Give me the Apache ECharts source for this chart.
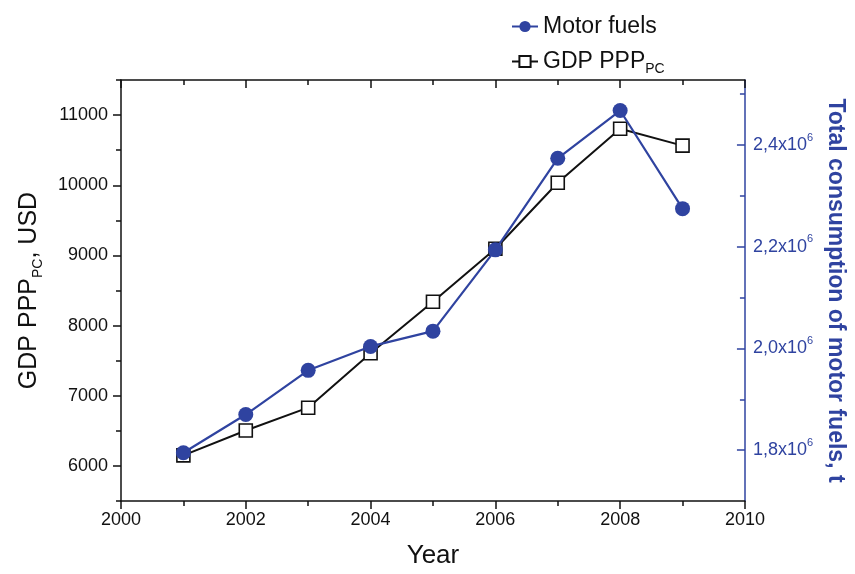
<!DOCTYPE html>
<html>
<head>
<meta charset="utf-8">
<script src="https://cdn.jsdelivr.net/npm/echarts@6/dist/echarts.min.js"></script>
<style>
  html, body { margin: 0; padding: 0; background: #ffffff; }
  #chart { width: 855px; height: 574px; }
</style>
</head>
<body>
<div id="chart"></div>
<script>
// Yearly values, 2001-2009
const years = [2001, 2002, 2003, 2004, 2005, 2006, 2007, 2008, 2009];
const gdpPppPc = [6150, 6505, 6830, 7605, 8340, 9095, 10035, 10805, 10565];
const motorFuels = [1795000, 1870000, 1957000, 2004000, 2034000, 2194000, 2374000, 2468000, 2275000];

// Tick positions
const gdpTicks = [6000, 7000, 8000, 9000, 10000, 11000];
const gdpMinorTicks = [5500, 6500, 7500, 8500, 9500, 10500, 11500];
const fuelTicks = [1800000, 2000000, 2200000, 2400000];
const fuelMinorTicks = [1900000, 2100000, 2300000, 2500000];

const BLUE = '#2f43a0';
const INK = '#111111';
const FONT = '"Liberation Sans", Arial, sans-serif';

const plainNumber = v => String(v);
const fuelLabel = v => '{m|' + (v / 1e6).toFixed(1).replace('.', ',') + 'x10}{e|6}';

const chart = echarts.init(document.getElementById('chart'), null, { renderer: 'canvas' });

const pair = (xs, ys) => xs.map((x, i) => [x, ys[i]]);

chart.setOption({
  animation: false,
  backgroundColor: '#ffffff',
  textStyle: { fontFamily: FONT },
  grid: { left: 121, right: 106, top: 80, bottom: 69, containLabel: false },
  legend: {
    orient: 'vertical',
    left: 506,
    top: 10,
    itemGap: 12,
    itemWidth: 26,
    itemHeight: 14,
    data: ['Motor fuels', 'GDP PPP_PC'],
    formatter: name => name === 'GDP PPP_PC' ? '{a|GDP PPP}{s|PC}' : '{a|' + name + '}',
    textStyle: {
      fontFamily: FONT,
      color: INK,
      rich: {
        a: { fontSize: 23, lineHeight: 30, verticalAlign: 'middle', color: INK, fontFamily: FONT },
        s: { fontSize: 14, lineHeight: 14, verticalAlign: 'bottom', color: INK, fontFamily: FONT }
      }
    }
  },
  xAxis: [
    {
      type: 'value', position: 'bottom', min: 2000, max: 2010, interval: 2,
      axisLine: { lineStyle: { color: INK, width: 1.5 } },
      axisTick: { show: true, inside: false, length: 8, lineStyle: { color: INK, width: 1.5 } },
      minorTick: { show: true, splitNumber: 2, length: 5, lineStyle: { color: INK, width: 1.5 } },
      axisLabel: { fontSize: 18, color: INK, margin: 10, fontFamily: FONT, formatter: plainNumber },
      splitLine: { show: false },
      minorSplitLine: { show: false },
      name: 'Year', nameLocation: 'middle', nameGap: 42,
      nameTextStyle: { fontSize: 26, color: INK, fontFamily: FONT }
    },
    {
      type: 'value', position: 'top', min: 2000, max: 2010, interval: 2,
      axisLine: { lineStyle: { color: INK, width: 1.5 } },
      axisTick: { show: true, inside: true, length: 8, lineStyle: { color: INK, width: 1.5 } },
      minorTick: { show: true, splitNumber: 2, length: 5, lineStyle: { color: INK, width: 1.5 } },
      axisLabel: { show: false },
      splitLine: { show: false },
      minorSplitLine: { show: false }
    }
  ],
  yAxis: [
    {
      type: 'value', position: 'left', min: 5500, max: 11500,
      axisLine: { show: true, lineStyle: { color: INK, width: 1.5 } },
      axisTick: { show: true, inside: false, length: 8, customValues: gdpTicks, lineStyle: { color: INK, width: 1.5 } },
      axisLabel: { customValues: gdpTicks, fontSize: 18, color: INK, margin: 13, fontFamily: FONT, formatter: plainNumber },
      splitLine: { show: false },
      name: '{a|GDP PPP}{s|PC}{a|, USD}',
      nameLocation: 'middle', nameGap: 76,
      nameTextStyle: {
        fontFamily: FONT, color: INK,
        rich: {
          a: { fontSize: 25, lineHeight: 32, verticalAlign: 'middle', color: INK, fontFamily: FONT },
          s: { fontSize: 14, lineHeight: 14, verticalAlign: 'bottom', color: INK, fontFamily: FONT }
        }
      }
    },
    {
      type: 'value', position: 'left', offset: 0, min: 5500, max: 11500,
      axisLine: { show: false },
      axisTick: { show: true, inside: false, length: 5, customValues: gdpMinorTicks, lineStyle: { color: INK, width: 1.5 } },
      axisLabel: { show: false },
      splitLine: { show: false }
    },
    {
      type: 'value', position: 'right', min: 1700000, max: 2528000,
      axisLine: { show: true, lineStyle: { color: BLUE, width: 1.5 } },
      axisTick: { show: true, inside: true, length: 8, customValues: fuelTicks, lineStyle: { color: BLUE, width: 1.5 } },
      axisLabel: {
        customValues: fuelTicks, margin: 8, color: BLUE, fontFamily: FONT,
        formatter: fuelLabel,
        rich: {
          m: { fontSize: 18, lineHeight: 26, verticalAlign: 'middle', color: BLUE, fontFamily: FONT },
          e: { fontSize: 11, lineHeight: 11, verticalAlign: 'top', color: BLUE, fontFamily: FONT }
        }
      },
      splitLine: { show: false },
      name: 'Total consumption of motor fuels, t',
      nameLocation: 'middle', nameGap: 78, nameRotate: -90,
      nameTextStyle: { fontSize: 23, fontWeight: 'bold', color: BLUE, fontFamily: FONT }
    },
    {
      type: 'value', position: 'right', offset: 0, min: 1700000, max: 2528000,
      axisLine: { show: false },
      axisTick: { show: true, inside: true, length: 5, customValues: fuelMinorTicks, lineStyle: { color: BLUE, width: 1.5 } },
      axisLabel: { show: false },
      splitLine: { show: false }
    }
  ],
  series: [
    {
      name: 'GDP PPP_PC',
      type: 'line',
      xAxisIndex: 0,
      yAxisIndex: 0,
      data: pair(years, gdpPppPc),
      symbol: 'rect',
      symbolSize: 13,
      z: 2,
      lineStyle: { color: INK, width: 2 },
      itemStyle: { color: '#ffffff', borderColor: INK, borderWidth: 1.6 }
    },
    {
      name: 'Motor fuels',
      type: 'line',
      xAxisIndex: 0,
      yAxisIndex: 2,
      data: pair(years, motorFuels),
      symbol: 'circle',
      symbolSize: 15,
      z: 3,
      lineStyle: { color: BLUE, width: 2.2 },
      itemStyle: { color: BLUE, borderWidth: 0 }
    }
  ]
});
</script>
</body>
</html>
